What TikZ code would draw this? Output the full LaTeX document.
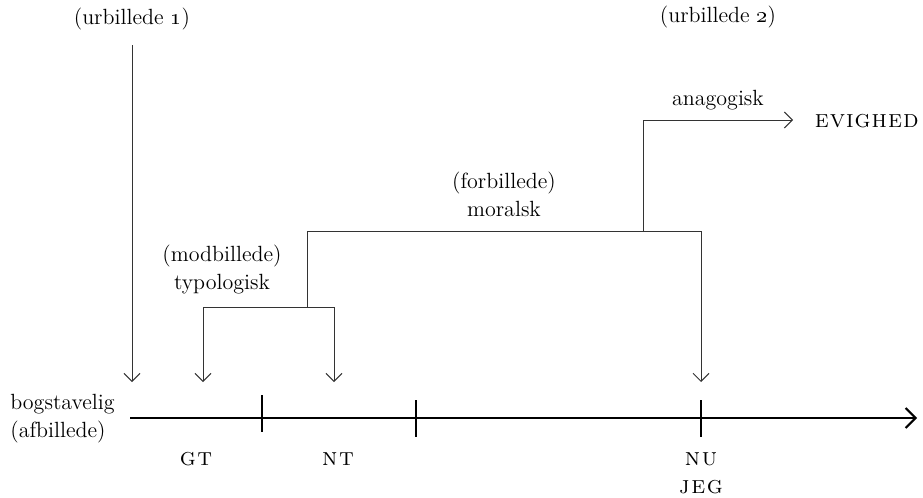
\documentclass[tikz,border=0pt]{standalone}
\usepackage{amsmath, amssymb}
\usepackage{xcolor}
\usetikzlibrary{arrows.meta}

\begin{document}
\begin{tikzpicture}[x=0.5pt, y=-0.5pt,
  every node/.style={font=\fontsize{11}{14}\selectfont, inner sep=1pt},
  caps/.style={font=\fontsize{12.5}{14}\selectfont\scshape},
  thin line/.style={draw=black!80, line width=0.5pt},
  down/.style={thin line, -{Straight Barb[length=4pt,width=8pt]}},
  axis/.style={line width=1pt, -{Straight Barb[length=5pt,width=10pt,line width=1pt]}},
  tick/.style={line width=1pt}]
\useasboundingbox (0,0) rectangle (923,498);
% time line
\coordinate (start) at (130,418);
\coordinate (end) at (917,418);
\draw[axis] (start)--(end);
\coordinate (t1) at (262,418);
\coordinate (t2) at (416,418);
\coordinate (t3) at (701,418);
\draw[tick] ([yshift=23*0.5pt]t1)--([yshift=-14*0.5pt]t1);
\draw[tick] ([yshift=18*0.5pt]t2)--([yshift=-19*0.5pt]t2);
\draw[tick] ([yshift=18*0.5pt]t3)--([yshift=-19*0.5pt]t3);
\node[align=left, anchor=west] (bog) at (8,419) {bogstavelig\\(afbillede)};
\node[caps] (gt) at (196,459) {g\kern0.8pt t};
\node[caps] (nt) at (338,459) {n\kern0.8pt t};
\node[caps] (nu) at (701,459) {n\kern0.8pt u};
\node[caps] (jeg) at (701,487) {j\kern0.8pt e\kern0.8pt g};
% urbillede 1
\node (ur1) at (132,19) {(urbillede \oldstylenums{1})};
\coordinate (u1top) at (132,45);
\coordinate (u1bot) at (132,382);
\draw[down] (u1top)--(u1bot);
% typologisk
\coordinate (gtb) at (203,382);
\coordinate (ntb) at (334,382);
\coordinate (typl) at (203,307);
\coordinate (typr) at (334,307);
\coordinate (typm) at (307,307);
\draw[thin line] (typl)--(typr);
\draw[down] (typl)--(gtb);
\draw[down] (typr)--(ntb);
\node[align=center] (typ) at (222,270) {(modbillede)\\typologisk};
% moralsk
\coordinate (morl) at (307,231);
\coordinate (morr) at (701,231);
\coordinate (morm) at (643,231);
\coordinate (nub) at (701,382);
\draw[thin line] (typm)--(morl)--(morr);
\draw[down] (morr)--(nub);
\node[align=center] (mor) at (504,194) {(forbillede)\\moralsk};
% anagogisk
\coordinate (anal) at (643,120);
\coordinate (anar) at (793,120);
\draw[thin line] (morm)--(anal);
\draw[down] (anal)--(anar);
\node (ana) at (718,100) {anagogisk};
\node[caps, anchor=east] (evig) at (921,121) {e\kern0.5pt v\kern0.5pt i\kern0.5pt g\kern0.5pt h\kern0.5pt e\kern0.5pt d};
\node (ur2) at (718,17) {(urbillede \oldstylenums{2})};
\end{tikzpicture}
\end{document}
